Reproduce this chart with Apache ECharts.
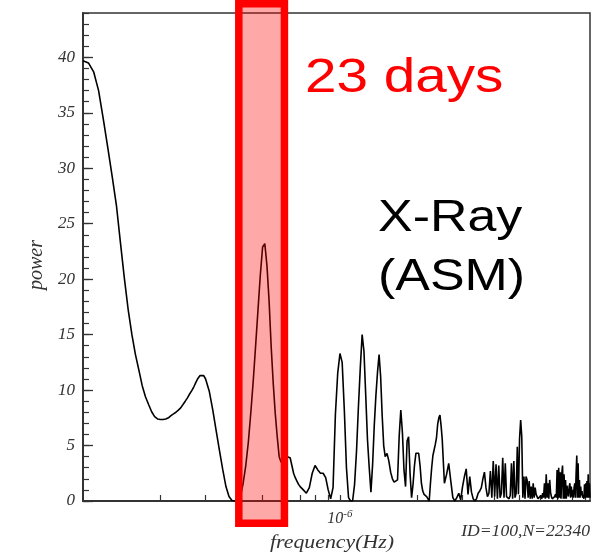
<!DOCTYPE html>
<html><head><meta charset="utf-8">
<script src="https://cdn.jsdelivr.net/npm/echarts@6/dist/echarts.min.js"></script>
<style>html,body{margin:0;padding:0;background:#fff}#c{width:593px;height:555px}</style>
</head><body><div id="c"></div>
<script>
// Frequency in micro-Hz (1e-6 Hz), power values
const freqA = [0.100,0.105,0.110,0.115,0.120,0.125,0.130,0.135,0.140,0.145,0.150,0.155,0.160,0.165,0.170,0.175,0.180,0.185,0.190,0.195,0.200,0.205,0.210,0.215,0.220,0.225,0.230,0.235,0.240,0.245,0.250,0.255,0.260,0.265,0.270,0.275,0.280,0.285,0.290,0.295,0.300];
const powA = [39.7,39.5,38.7,37.0,34.4,31.8,29.2,26.6,23.2,20.0,17.2,15.0,13.2,11.8,10.4,9.4,8.7,8.05,7.6,7.4,7.35,7.35,7.4,7.5,7.7,7.85,8.0,8.2,8.4,8.7,9.0,9.3,9.65,9.95,10.3,10.7,11.05,11.3,11.4,11.3,11.0];

const freqB = [0.31,0.32,0.33,0.34,0.35,0.36,0.37,0.38,0.39,0.40,0.41,0.42,0.43,0.44,0.45,0.46,0.47,0.48,0.49,0.50,0.51,0.52,0.53,0.54,0.55,0.56,0.57,0.58,0.59,0.60,0.61,0.62,0.63,0.64,0.65,0.66,0.67,0.68,0.69,0.70];
const powB = [9.9,8.2,6.3,4.5,2.8,1.3,0.4,0.05,0.0,0.1,0.4,1.6,3.2,5.3,8.0,10.9,14.1,17.3,20.4,22.9,23.2,21.2,18.0,13.9,10.6,7.9,5.8,4.0,3.5,3.6,3.8,4.0,4.0,3.9,3.2,2.5,2.1,1.8,1.5,1.3];

const freqC = [0.72,0.74,0.76,0.78,0.80,0.82,0.84,0.86,0.88,0.90,0.92,0.94,0.96,0.98,1.00,1.02,1.04,1.06,1.08,1.10,1.12,1.14,1.16,1.18,1.20,1.22,1.24,1.26,1.28,1.30,1.32,1.34,1.36,1.38,1.40,1.42,1.44,1.46,1.48,1.50];
const powC = [1.0,0.7,1.2,2.5,3.2,2.8,2.5,2.5,2.1,1.0,0.2,1.2,7.8,11.5,13.3,12.5,8.2,3.0,0.3,0.0,0.0,1.5,4.5,8.5,12.0,15.0,13.5,9.5,5.5,3.0,0.8,3.3,6.8,9.5,11.6,13.2,11.2,7.7,5.0,4.0];

const freqD1 = [1.525,1.55,1.575,1.60,1.625,1.65,1.675,1.70,1.725,1.75,1.775,1.80,1.825,1.85,1.875,1.90,1.925,1.95,1.975,2.00,2.025,2.05,2.075,2.10,2.125,2.15,2.175,2.20,2.225,2.25,2.275,2.30,2.325,2.35,2.375,2.40,2.425,2.45,2.475,2.50];
const powD1 = [4.3,3.6,2.6,2.0,1.7,1.6,1.9,5.8,8.2,6.2,2.8,1.3,5.4,5.8,2.4,0.3,1.5,3.2,4.3,4.4,4.3,3.2,1.6,0.9,0.6,0.5,0.4,0.2,0.0,1.6,3.0,4.1,4.6,5.1,5.7,6.9,7.5,7.75,6.8,5.6];

const freqD2 = [2.55,2.60,2.65,2.70,2.75,2.80,2.85,2.90,2.95,3.00,3.05,3.10,3.15,3.20,3.25,3.30,3.35,3.40,3.45,3.50,3.55,3.60,3.65,3.70,3.75,3.80,3.85,3.90,3.95,4.00];
const powD2 = [1.6,2.4,3.4,1.8,0.3,0.0,0.3,0.7,0.1,1.3,2.2,2.9,0.6,2.2,0.8,0.2,0.0,0.2,0.7,0.9,1.2,2.0,2.6,1.2,0.4,0.7,2.7,0.3,3.6,0.4];

const freqE = [4.05,4.10,4.15,4.20,4.25,4.30,4.35,4.40,4.45,4.50,4.55,4.60,4.65,4.70,4.75,4.80,4.85,4.90,4.95,5.00,5.05,5.10,5.15,5.20,5.25,5.30,5.35,5.40,5.45,5.50,5.55,5.60,5.65,5.70,5.75,5.80,5.85,5.90,5.95,6.00,6.05,6.10,6.15,6.20,6.25,6.30,6.35,6.40,6.45,6.50,6.55,6.60,6.65,6.70,6.75,6.80,6.85,6.90,6.95,7.00,7.05,7.10,7.15,7.20,7.25,7.30,7.35,7.40,7.45,7.50,7.55,7.60,7.65,7.70,7.75,7.80,7.85,7.90,7.95,8.00,8.05,8.10,8.15,8.20,8.25,8.30,8.35,8.40,8.45,8.50,8.55,8.60,8.65,8.70,8.75,8.80,8.85,8.90,8.95,9.00,9.05,9.10,9.15,9.20,9.25,9.30,9.35,9.40];
const powE = [3.3,0.2,3.2,0.3,0.7,3.9,0.3,3.4,0.4,0.3,0.2,0.5,3.4,0.2,3.6,0.3,0.7,4.9,0.6,5.6,7.3,5.8,0.3,2.2,0.2,2.2,1.9,0.3,1.8,0.2,1.3,0.2,1.6,0.3,1.2,0.6,0.4,0.2,0.3,0.2,0.5,0.2,0.7,0.3,1.6,0.2,2.4,0.3,1.6,0.2,1.9,0.8,0.4,0.2,0.3,0.2,0.4,0.6,0.3,2.8,0.2,3.0,0.3,2.6,0.2,2.5,3.2,0.2,2.4,0.2,1.9,0.2,1.4,0.7,0.4,1.3,1.6,0.3,1.3,0.4,1.0,0.3,1.2,1.6,0.3,2.5,4.1,0.3,3.4,0.3,1.9,0.3,1.3,0.5,0.9,0.3,0.5,0.2,1.5,0.3,1.6,0.3,1.8,0.3,2.4,0.3,1.6,0.3];

// Axis ticks / labels (frequency in micro-Hz)
const xTickValues = [0.2,0.3,0.4,0.5,0.6,0.7,0.8,0.9,1,2,3,4,5,6,7,8,9];
const xLabelValues = [1];
const xMin = 0.1, xMax = 9.4;
const yMin = 0, yMax = 44, yMajor = 5, yMinor = 1;
// highlighted band (23 days ~ 0.5 micro-Hz)
const band = [0.404, 0.608];

const freq = [].concat(freqA, freqB, freqC, freqD1, freqD2, freqE);
const power = [].concat(powA, powB, powC, powD1, powD2, powE);
if (freq.length !== power.length) console.error('length mismatch', freq.length, power.length);
const data = freq.map((f, i) => [f, power[i]]);

const serif = '"Liberation Serif", "Times New Roman", serif';
const sans = '"Liberation Sans", Arial, sans-serif';
const axisColor = '#333';

const chart = echarts.init(document.getElementById('c'), null, {renderer: 'canvas'});
chart.setOption({
  animation: false,
  grid: {left: 83, right: 3, top: 13, bottom: 54, show: true, borderColor: axisColor, borderWidth: 1.5, backgroundColor: 'transparent'},
  xAxis: [
    {type: 'log', logBase: 10, min: xMin, max: xMax, position: 'bottom',
     axisLine: {show: true, onZero: false, lineStyle: {color: axisColor, width: 2}},
     axisTick: {show: false}, axisLabel: {show: false}, splitLine: {show: false}},
    {type: 'value', min: Math.log10(xMin), max: Math.log10(xMax), position: 'bottom',
     axisLine: {show: false, onZero: false},
     axisTick: {show: true, inside: true, length: 6, customValues: xTickValues.map(Math.log10), lineStyle: {color: axisColor, width: 1.2}},
     axisLabel: {show: true, customValues: xLabelValues.map(Math.log10), margin: 8,
       formatter: () => '{b|10}{s|-6}',
       rich: {
         b: {fontFamily: serif, fontStyle: 'italic', fontSize: 16, color: axisColor, lineHeight: 18, verticalAlign: 'bottom'},
         s: {fontFamily: serif, fontStyle: 'italic', fontSize: 11, color: axisColor, lineHeight: 11, verticalAlign: 'top'}
       }},
     splitLine: {show: false}}
  ],
  yAxis: [
    {type: 'value', min: yMin, max: yMax, interval: yMajor, position: 'left',
     axisLine: {show: true, onZero: false, lineStyle: {color: axisColor, width: 2}},
     axisTick: {show: true, inside: true, length: 10, lineStyle: {color: axisColor, width: 1.3}},
     axisLabel: {show: true, showMaxLabel: false, margin: 8, fontFamily: serif, fontStyle: 'italic', fontSize: 17, color: axisColor},
     splitLine: {show: false}},
    {type: 'value', min: yMin, max: yMax, interval: yMinor, position: 'left',
     axisLine: {show: false, onZero: false},
     axisTick: {show: true, inside: true, length: 6, lineStyle: {color: axisColor, width: 1.2}},
     axisLabel: {show: false}, splitLine: {show: false}}
  ],
  series: [{
    type: 'line', xAxisIndex: 0, yAxisIndex: 0, data: data,
    symbol: 'none', lineStyle: {color: '#000', width: 1.6}, clip: true, z: 3
  }]
});

const bx0 = chart.convertToPixel({xAxisIndex: 0}, band[0]);
const bx1 = chart.convertToPixel({xAxisIndex: 0}, band[1]);

function txt(o) {
  return {type: 'text', z: 110, x: o.x, y: o.y, rotation: o.rotation || 0, scaleX: o.scaleX || 1,
    style: {text: o.text, font: o.font, fill: o.fill, align: o.align, verticalAlign: 'middle',
            textAlign: o.align, textVerticalAlign: 'middle'}};
}

chart.setOption({
  graphic: [
    {type: 'rect', z: 100, shape: {x: bx0, y: 3.75, width: bx1 - bx0, height: 519.5},
     style: {fill: 'rgba(255,0,0,0.34)', stroke: '#ff0000', lineWidth: 7.5}},
    txt({text: '23 days', x: 305, y: 79, scaleX: 1.18, font: '48px ' + sans, fill: '#ff0000', align: 'left'}),
    txt({text: 'X-Ray', x: 378, y: 219, scaleX: 1.18, font: '44px ' + sans, fill: '#000', align: 'left'}),
    txt({text: '(ASM)', x: 378, y: 278, scaleX: 1.18, font: '44px ' + sans, fill: '#000', align: 'left'}),
    txt({text: 'power', x: 37, y: 265, rotation: Math.PI / 2, font: 'italic 20px ' + serif, fill: axisColor, align: 'center'}),
    txt({text: 'frequency(Hz)', x: 332, y: 543, scaleX: 1.15, font: 'italic 19px ' + serif, fill: axisColor, align: 'center'}),
    txt({text: 'ID=100,N=22340', x: 590, y: 532, scaleX: 1.1, font: 'italic 16px ' + serif, fill: axisColor, align: 'right'})
  ]
});
</script>
</body></html>
